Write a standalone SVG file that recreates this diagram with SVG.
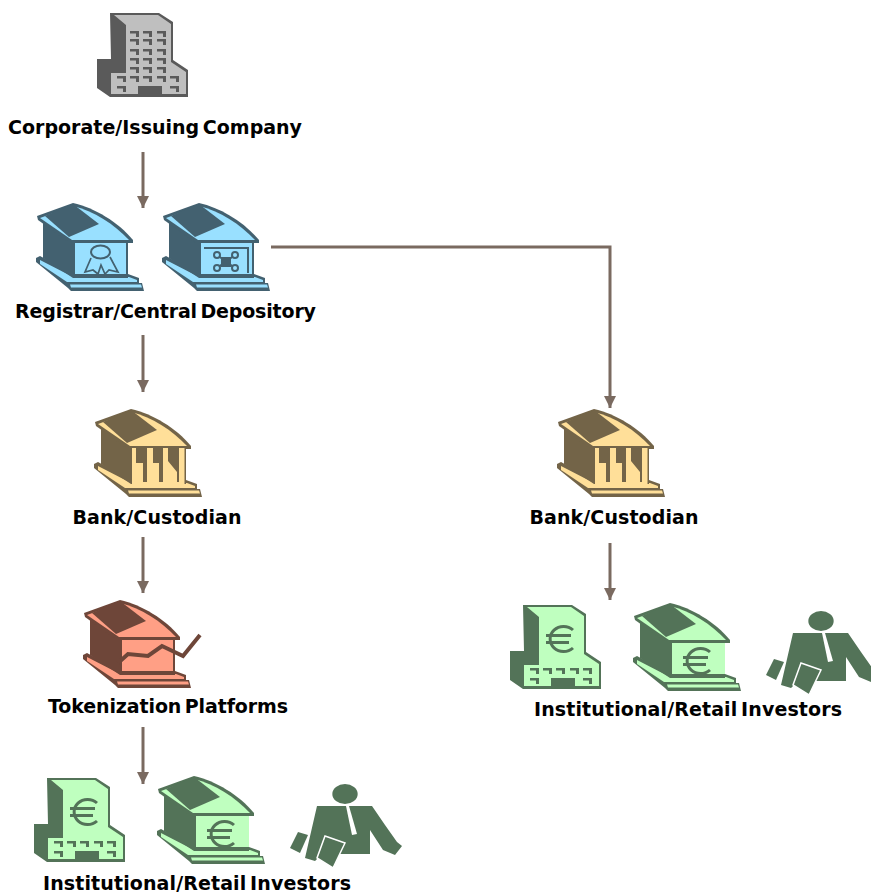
<svg xmlns="http://www.w3.org/2000/svg" width="871" height="894" viewBox="0 0 871 894">
<style>
text{font-family:"DejaVu Sans","Liberation Sans",sans-serif;font-weight:700;font-size:19px;fill:#000;text-anchor:middle;word-spacing:-3px}
.d{fill:var(--d)}.l{fill:var(--l)}
.gr{--d:#5a5a5a;--l:#bfbfbf}.bl{--d:#436170;--l:#99e0ff}.ta{--d:#736448;--l:#ffdf99}.sa{--d:#6e4639;--l:#ff9f85}.gn{--d:#537358;--l:#bfffbf}
.c{fill:none;stroke:#7a6a60;stroke-width:3}
.o{fill:none;stroke:var(--d);stroke-width:2}
</style>
<defs>
<marker id="a" markerUnits="userSpaceOnUse" markerWidth="12" markerHeight="12" refX="12" refY="6" orient="auto"><path d="M0 0L12 6L0 12z" fill="#7a6a60"/></marker>
<g id="tower">
<path class="d" d="M110 13H159L173 22V60L188 70V97H110L97 88V59H111z"/>
<path class="l" d="M114 15H158L171 24V62L186 72V94H111V73H126V25z"/>
</g>
<path id="win" class="d" d="M0 0H9V6H6V2.500H0z"/>
<g id="lowwin">
<use href="#win" x="117" y="76"/><use href="#win" x="130" y="76"/><use href="#win" x="143" y="76"/><use href="#win" x="157" y="76"/><use href="#win" x="170" y="76"/>
<use href="#win" x="117" y="86"/><use href="#win" x="170" y="86"/>
<rect class="d" x="138" y="86" width="24" height="10"/>
</g>
<g id="temple">
<path class="d" d="M36 258L40 256L73 274H128L139 278V283H142L144 291H71L68 288L36 262z"/>
<path class="l" d="M40 260L73 277H129L137 280V282H67L40 264z"/>
<path class="l" d="M70 284.500H141L142 287.500H71z"/>
<path class="d" d="M43 220L73 240H128V278H73L43 258z"/>
<path class="d" d="M37 216L73 203C95 208 118 222 133 240V243H70L38 220z"/>
<path class="l" d="M40 218L73 206C94 211 114 224 129 240H72z"/>
<path class="d" d="M45 216L73 204L99 224L69 237z"/>
</g>
<path id="euro" class="o" style="stroke-width:3" d="M13 -9A13.500 12.500 0 1 0 13 9M-14 -3.500H11M-14 3.500H9"/>
<g id="person">
<ellipse class="d" cx="345" cy="794" rx="12.700" ry="10"/>
<path class="d" d="M317 806H372L385 825L397 842L402 846L395 855L383 850L370 830V854H322L315 861L305 858z"/>
<path fill="#fff" d="M346 806H349L357 834L352 835z"/>
<path class="d" d="M298 832L308 835L300 853L290 848z"/>
<path class="d" stroke="#fff" stroke-width="1.500" d="M325 836L345 843L333 868L317 858z"/>
</g>
<g id="inv">
<use href="#tower" transform="translate(-63 765)"/>
<use href="#lowwin" transform="translate(-63 765)"/>
<use href="#euro" transform="translate(84 812)"/>
<use href="#temple" transform="translate(121 573)"/>
<rect class="l" x="196" y="816" width="53" height="31"/>
<use href="#euro" transform="translate(221 834)"/>
<use href="#person"/>
</g>
</defs>
<g id="connectors">
<path class="c" marker-end="url(#a)" d="M143 152V208"/>
<path class="c" marker-end="url(#a)" d="M143 335V392"/>
<path class="c" marker-end="url(#a)" d="M143 537V593"/>
<path class="c" marker-end="url(#a)" d="M143 727V784"/>
<path class="c" marker-end="url(#a)" d="M610 543V600"/>
<path class="c" marker-end="url(#a)" d="M271 247H610V408"/>
</g>
<g id="corporate" class="gr">
<use href="#tower"/>
<use href="#lowwin"/>
<use href="#win" x="130" y="31"/><use href="#win" x="143" y="31"/><use href="#win" x="157" y="31"/>
<use href="#win" x="130" y="39"/><use href="#win" x="143" y="39"/><use href="#win" x="157" y="39"/>
<use href="#win" x="130" y="49"/><use href="#win" x="143" y="49"/><use href="#win" x="157" y="49"/>
<use href="#win" x="130" y="58"/><use href="#win" x="143" y="58"/><use href="#win" x="157" y="58"/>
<use href="#win" x="130" y="67"/><use href="#win" x="143" y="67"/><use href="#win" x="157" y="67"/>
<text x="155" y="134" textLength="294">Corporate/Issuing Company</text>
</g>
<g id="registrar" class="bl">
<use href="#temple"/>
<rect class="l" x="75" y="243" width="51" height="31"/>
<ellipse class="o" cx="100.500" cy="252" rx="9.500" ry="6.500"/>
<path class="o" style="stroke-width:1.700" d="M91 258L85 272L93 270L98 274L101 265L105 274L109 270L118 272L110 257"/>
<use href="#temple" x="126"/>
<rect class="l" x="201" y="243" width="51" height="31"/>
<path class="o" d="M204 248H248V273"/>
<path class="o" d="M217 255L235 268M235 255L217 268"/>
<g class="o" style="fill:var(--l)"><circle cx="217" cy="255" r="3"/><circle cx="235" cy="255" r="3"/><circle cx="217" cy="268" r="3"/><circle cx="235" cy="268" r="3"/></g>
<rect class="d" x="221" y="257" width="10" height="10"/>
<text x="165.500" y="318" textLength="301">Registrar/Central Depository</text>
</g>
<g id="bank-left" class="ta">
<use href="#temple" transform="translate(58 206)"/>
<rect class="l" x="132" y="448" width="52.500" height="37"/>
<path class="d" d="M136 448H147V482H143V463H136zM153 448H163V482H159V463H153zM168 448H179V482H177V472L168 461z"/>
<text x="157" y="524" textLength="169">Bank/Custodian</text>
</g>
<g id="bank-right" class="ta">
<use href="#temple" transform="translate(521 206)"/>
<rect class="l" x="595" y="448" width="52.500" height="37"/>
<path class="d" d="M599 448H610V482H606V463H599zM616 448H626V482H622V463H616zM631 448H642V482H640V472L631 461z"/>
<text x="614" y="524" textLength="169">Bank/Custodian</text>
</g>
<g id="tokenization" class="sa">
<use href="#temple" transform="translate(47 397)"/>
<rect class="l" x="122" y="640" width="51" height="31"/>
<path fill="none" stroke="#6e4639" stroke-width="4" d="M118 663L128 654L148 656L162 646L183 656L200 635"/>
<text x="168" y="713" textLength="240">Tokenization Platforms</text>
</g>
<g id="investors-left" class="gn">
<use href="#inv"/>
<text x="197" y="889.500" textLength="308">Institutional/Retail Investors</text>
</g>
<g id="investors-right" class="gn">
<use href="#inv" transform="translate(476 -173)"/>
<text x="688" y="716" textLength="308">Institutional/Retail Investors</text>
</g>
</svg>
